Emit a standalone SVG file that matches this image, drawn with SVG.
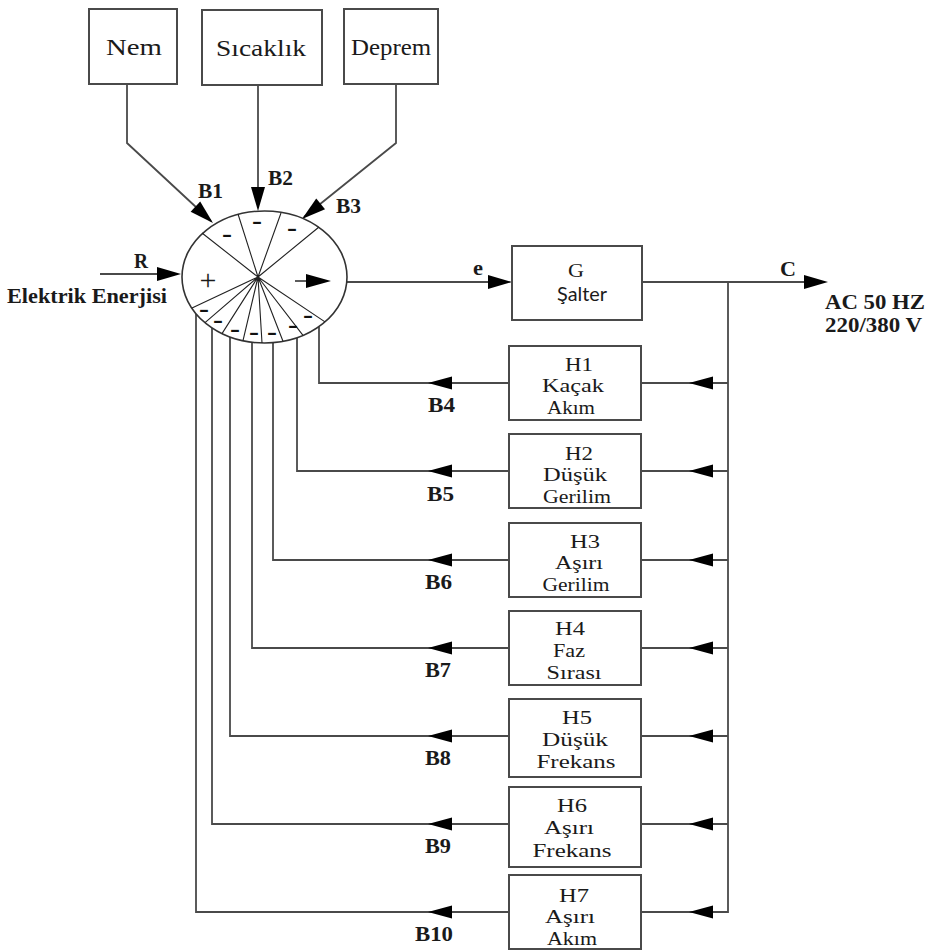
<svg xmlns="http://www.w3.org/2000/svg" xmlns:xlink="http://www.w3.org/1999/xlink" width="931" height="951" viewBox="0 0 931 951">
<style>
  .box { fill: #ffffff; stroke: #4a4a4a; stroke-width: 2; }
  .ln { fill: none; stroke: #4a4a4a; stroke-width: 1.8; }
  .thin { fill: none; stroke: #222; stroke-width: 1.1; }
  .ah { fill: #000; }
  .t { font-family: "Liberation Serif", "Times New Roman", serif; fill: #1a1a1a; }
  .lbl { font-family: "Liberation Serif", "Times New Roman", serif; font-weight: bold; font-size: 20px; fill: #1a1a1a; }
  .bx { font-size: 18px; text-anchor: middle; }
  .top { font-size: 24px; text-anchor: middle; }
  .sg { font-family: "Liberation Serif", serif; font-weight: bold; font-size: 26px; text-anchor: middle; fill: #111; }
</style>
<defs>
  <path id="aR" d="M0,0 L-24,-7 L-24,7 Z"/>
  <path id="aL" d="M0,0 L24,-6.5 L24,6.5 Z"/>
</defs>

<rect width="931" height="951" fill="#ffffff"/>

<g id="connectors">
  <!-- sensor inputs -->
  <path class="ln" d="M127,84 V143 L211,221"/>
  <path class="ln" d="M258,85 V206"/>
  <path class="ln" d="M396,84 V143 L304,217"/>
  <!-- R input -->
  <path class="ln" d="M100,274 H170"/>
  <!-- e output -->
  <path class="ln" d="M347,282 H500"/>
  <!-- C output and bus -->
  <path class="ln" d="M641,282 H815"/>
  <path class="ln" d="M728,282 V912 H641"/>
  <path class="ln" d="M728,383 H641"/>
  <path class="ln" d="M728,471 H641"/>
  <path class="ln" d="M728,560 H641"/>
  <path class="ln" d="M728,648 H641"/>
  <path class="ln" d="M728,736 H641"/>
  <path class="ln" d="M728,824 H641"/>
  <!-- feedback paths -->
  <path class="ln" d="M509,383 H319 V326.6"/>
  <path class="ln" d="M509,471 H297 V337.7"/>
  <path class="ln" d="M509,560 H273 V342.7"/>
  <path class="ln" d="M509,648 H252 V342.2"/>
  <path class="ln" d="M509,736 H230 V337"/>
  <path class="ln" d="M509,824 H212 V327.9"/>
  <path class="ln" d="M509,912 H196 V313.8"/>

  <!-- arrowheads -->
  <use xlink:href="#aR" class="ah" transform="translate(213,223) rotate(42.9)"/>
  <use xlink:href="#aR" class="ah" transform="translate(258,211) rotate(90)"/>
  <use xlink:href="#aR" class="ah" transform="translate(302,219) rotate(141)"/>
  <use xlink:href="#aR" class="ah" x="181" y="274"/>
  <use xlink:href="#aR" class="ah" x="512" y="282"/>
  <use xlink:href="#aR" class="ah" x="828" y="282"/>
  <use xlink:href="#aL" class="ah" x="428" y="383"/>
  <use xlink:href="#aL" class="ah" x="428" y="471"/>
  <use xlink:href="#aL" class="ah" x="428" y="560"/>
  <use xlink:href="#aL" class="ah" x="428" y="648"/>
  <use xlink:href="#aL" class="ah" x="428" y="736"/>
  <use xlink:href="#aL" class="ah" x="428" y="824"/>
  <use xlink:href="#aL" class="ah" x="428" y="912"/>
  <use xlink:href="#aL" class="ah" x="689" y="383"/>
  <use xlink:href="#aL" class="ah" x="689" y="471"/>
  <use xlink:href="#aL" class="ah" x="689" y="560"/>
  <use xlink:href="#aL" class="ah" x="689" y="648"/>
  <use xlink:href="#aL" class="ah" x="689" y="736"/>
  <use xlink:href="#aL" class="ah" x="689" y="824"/>
  <use xlink:href="#aL" class="ah" x="689" y="912"/>

  <!-- connector labels -->
  <text class="lbl" x="198" y="198" textLength="25" lengthAdjust="spacingAndGlyphs">B1</text>
  <text class="lbl" x="268" y="185" textLength="25" lengthAdjust="spacingAndGlyphs">B2</text>
  <text class="lbl" x="336" y="213" textLength="25" lengthAdjust="spacingAndGlyphs">B3</text>
  <text class="lbl" x="134" y="268" font-size="17" textLength="14" lengthAdjust="spacingAndGlyphs">R</text>
  <text class="lbl" x="473" y="275" font-size="15" textLength="10" lengthAdjust="spacingAndGlyphs">e</text>
  <text class="lbl" x="780" y="276" font-size="19" textLength="16" lengthAdjust="spacingAndGlyphs">C</text>
  <text class="lbl" x="428" y="412" textLength="27" lengthAdjust="spacingAndGlyphs">B4</text>
  <text class="lbl" x="427" y="501" textLength="27" lengthAdjust="spacingAndGlyphs">B5</text>
  <text class="lbl" x="425" y="589" textLength="27" lengthAdjust="spacingAndGlyphs">B6</text>
  <text class="lbl" x="425" y="677" textLength="26" lengthAdjust="spacingAndGlyphs">B7</text>
  <text class="lbl" x="425" y="765" textLength="26" lengthAdjust="spacingAndGlyphs">B8</text>
  <text class="lbl" x="425" y="853" textLength="26" lengthAdjust="spacingAndGlyphs">B9</text>
  <text class="lbl" x="415" y="941" textLength="38" lengthAdjust="spacingAndGlyphs">B10</text>
</g>

<g id="input-label">
  <text class="lbl" x="7" y="303" font-size="18" textLength="160" lengthAdjust="spacingAndGlyphs">Elektrik Enerjisi</text>
</g>

<g id="output-label">
  <text class="lbl" x="825" y="309" font-size="20" textLength="100" lengthAdjust="spacingAndGlyphs">AC 50 HZ</text>
  <text class="lbl" x="825" y="332" font-size="20" textLength="97" lengthAdjust="spacingAndGlyphs">220/380 V</text>
</g>

<g id="nem">
  <rect class="box" x="89" y="9" width="88" height="75"/>
  <text class="t top" x="134" y="55" textLength="56" lengthAdjust="spacingAndGlyphs">Nem</text>
</g>
<g id="sicaklik">
  <rect class="box" x="202" y="10" width="120" height="75"/>
  <text class="t top" x="261" y="56" textLength="90" lengthAdjust="spacingAndGlyphs">Sıcaklık</text>
</g>
<g id="deprem">
  <rect class="box" x="344" y="9" width="94" height="75"/>
  <text class="t top" x="391" y="55" textLength="80" lengthAdjust="spacingAndGlyphs">Deprem</text>
</g>

<g id="summing-junction">
  <ellipse cx="264.5" cy="277" rx="82.5" ry="66" fill="#fff" stroke="#333" stroke-width="1.6"/>
  <path class="thin" d="M258,277 L202,233 M258,277 L238,214 M258,277 L281,213 M258,277 L319,227
    M258,277 L192,308 M258,277 L205,322.7 M258,277 L222,333.6 M258,277 L243,340.7 M258,277 L262,343
    M258,277 L283,341.3 M258,277 L303,335.4 M258,277 L325,321.9"/>
  <path class="ln" d="M295,281 H310"/>
  <path class="ah" d="M331,281 L306,274 L306,288 Z"/>
  <text class="t" x="208" y="290" font-size="30" text-anchor="middle">+</text>
  <text class="sg" x="227" y="242" textLength="10" lengthAdjust="spacingAndGlyphs">-</text>
  <text class="sg" x="257" y="229" textLength="10" lengthAdjust="spacingAndGlyphs">-</text>
  <text class="sg" x="292" y="236" textLength="10" lengthAdjust="spacingAndGlyphs">-</text>
  <text class="sg" x="204" y="317" textLength="10" lengthAdjust="spacingAndGlyphs">-</text>
  <text class="sg" x="218" y="328" textLength="10" lengthAdjust="spacingAndGlyphs">-</text>
  <text class="sg" x="235" y="337" textLength="10" lengthAdjust="spacingAndGlyphs">-</text>
  <text class="sg" x="254" y="340" textLength="10" lengthAdjust="spacingAndGlyphs">-</text>
  <text class="sg" x="272" y="340" textLength="10" lengthAdjust="spacingAndGlyphs">-</text>
  <text class="sg" x="293" y="333" textLength="10" lengthAdjust="spacingAndGlyphs">-</text>
  <text class="sg" x="308" y="323" textLength="10" lengthAdjust="spacingAndGlyphs">-</text>
</g>

<g id="G">
  <rect class="box" x="512" y="246" width="130" height="74"/>
  <text class="t" x="576" y="277" font-size="19" text-anchor="middle" textLength="16" lengthAdjust="spacingAndGlyphs">G</text>
  <text x="582" y="301" font-family="Lato, 'Open Sans', sans-serif" font-size="19" fill="#1a1a1a" text-anchor="middle" textLength="50" lengthAdjust="spacingAndGlyphs">Şalter</text>
</g>

<g id="H1">
  <rect class="box" x="509" y="346" width="132" height="74"/>
  <text class="t bx" x="579" y="371" textLength="28" lengthAdjust="spacingAndGlyphs">H1</text>
  <text class="t bx" x="573" y="392" textLength="62" lengthAdjust="spacingAndGlyphs">Kaçak</text>
  <text class="t bx" x="571" y="414" textLength="48" lengthAdjust="spacingAndGlyphs">Akım</text>
</g>
<g id="H2">
  <rect class="box" x="509" y="434" width="132" height="74"/>
  <text class="t bx" x="579" y="460" textLength="28" lengthAdjust="spacingAndGlyphs">H2</text>
  <text class="t bx" x="575" y="481" textLength="64" lengthAdjust="spacingAndGlyphs">Düşük</text>
  <text class="t bx" x="577" y="503" textLength="68" lengthAdjust="spacingAndGlyphs">Gerilim</text>
</g>
<g id="H3">
  <rect class="box" x="509" y="523" width="132" height="74"/>
  <text class="t bx" x="585" y="548" textLength="30" lengthAdjust="spacingAndGlyphs">H3</text>
  <text class="t bx" x="579" y="569" textLength="48" lengthAdjust="spacingAndGlyphs">Aşırı</text>
  <text class="t bx" x="576" y="591" textLength="67" lengthAdjust="spacingAndGlyphs">Gerilim</text>
</g>
<g id="H4">
  <rect class="box" x="509" y="611" width="132" height="74"/>
  <text class="t bx" x="570" y="635" textLength="30" lengthAdjust="spacingAndGlyphs">H4</text>
  <text class="t bx" x="569" y="657" textLength="32" lengthAdjust="spacingAndGlyphs">Faz</text>
  <text class="t bx" x="574" y="679" textLength="55" lengthAdjust="spacingAndGlyphs">Sırası</text>
</g>
<g id="H5">
  <rect class="box" x="509" y="699" width="132" height="78"/>
  <text class="t bx" x="577" y="724" textLength="30" lengthAdjust="spacingAndGlyphs">H5</text>
  <text class="t bx" x="575" y="746" textLength="66" lengthAdjust="spacingAndGlyphs">Düşük</text>
  <text class="t bx" x="576" y="768" textLength="79" lengthAdjust="spacingAndGlyphs">Frekans</text>
</g>
<g id="H6">
  <rect class="box" x="509" y="787" width="132" height="80"/>
  <text class="t bx" x="572" y="812" textLength="30" lengthAdjust="spacingAndGlyphs">H6</text>
  <text class="t bx" x="569" y="834" textLength="50" lengthAdjust="spacingAndGlyphs">Aşırı</text>
  <text class="t bx" x="572" y="857" textLength="79" lengthAdjust="spacingAndGlyphs">Frekans</text>
</g>
<g id="H7">
  <rect class="box" x="509" y="875" width="132" height="74"/>
  <text class="t bx" x="574" y="902" textLength="30" lengthAdjust="spacingAndGlyphs">H7</text>
  <text class="t bx" x="570" y="923" textLength="50" lengthAdjust="spacingAndGlyphs">Aşırı</text>
  <text class="t bx" x="572" y="945" textLength="50" lengthAdjust="spacingAndGlyphs">Akım</text>
</g>
</svg>
